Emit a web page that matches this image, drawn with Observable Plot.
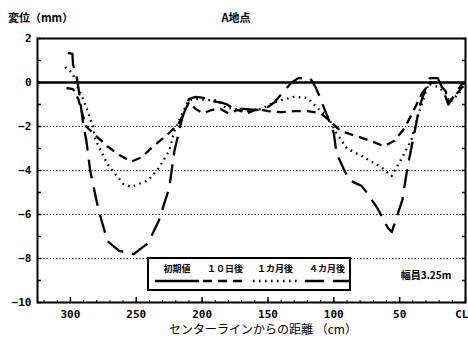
<!DOCTYPE html>
<html><head><meta charset="utf-8">
<script src="https://cdn.jsdelivr.net/npm/d3@7"></script>
<script src="https://cdn.jsdelivr.net/npm/@observablehq/plot@0.6"></script>
<style>
body{margin:0;background:#fff}
#chart svg{overflow:visible}
</style>
</head><body><div id="chart"></div>
<script>
// ---- data ----
const seriesNames = ["初期値", "１０日後", "１カ月後", "４カ月後"];

const xInit = [325, 0];
const yInit = [0, 0];

const x10d = [303, 298, 296, 294, 292, 288, 281, 272, 264, 254, 246, 238, 227, 218, 210, 205, 199, 193, 186, 180, 173, 166, 158, 150, 140, 130, 120, 110, 102, 95, 82, 70, 62, 54, 46, 38, 33, 27, 21, 15, 13, 5, 0];
const y10d = [-0.25, -0.3, -0.5, -0.75, -1.2, -2.0, -2.4, -2.9, -3.25, -3.6, -3.4, -2.95, -2.4, -1.9, -0.9, -1.2, -1.4, -1.25, -1.2, -1.4, -1.25, -1.4, -1.2, -1.3, -1.35, -1.3, -1.3, -1.4, -1.8, -2.2, -2.45, -2.7, -2.9, -2.65, -2.05, -1.1, -0.5, 0.0, 0.0, -0.4, -0.9, -0.4, 0];

const x1m = [304, 298, 296, 293, 290, 287, 283, 281, 272, 260, 254, 241, 233, 225, 221, 215, 210, 203, 196, 189, 182, 175, 165, 155, 147, 140, 130, 120, 115, 110, 105, 98, 90, 77, 64, 56, 48, 41, 37, 33, 28, 21, 15, 12, 5, 0];
const y1m = [0.7, 0.4, -0.05, -0.4, -0.8, -1.3, -2.0, -2.6, -3.7, -4.6, -4.75, -4.45, -3.9, -3.1, -2.2, -1.4, -0.8, -0.75, -0.8, -0.8, -1.15, -1.2, -1.3, -1.2, -0.95, -0.8, -0.65, -0.7, -1.0, -1.3, -1.5, -2.3, -3.0, -3.4, -3.85, -4.25, -3.4, -2.6, -1.7, -0.95, -0.05, -0.2, -0.5, -0.9, -0.5, 0];

const x4m = [302, 298.5, 298, 296, 294, 292, 290, 288, 285, 279, 272, 263, 252, 241, 233, 225, 221, 215, 210, 205, 199, 193, 186, 181, 176, 168, 160, 152, 145, 138, 132, 127, 118, 114, 111, 100, 98, 92, 88, 79, 75, 67, 59, 56, 48, 44, 38, 35, 29, 27, 21, 18, 13, 3, 0];
const y4m = [1.35, 1.3, 0.8, 0.5, -0.2, -1.1, -2.0, -2.6, -4.0, -5.7, -7.2, -7.65, -7.8, -7.3, -6.3, -4.8, -3.1, -1.6, -0.75, -0.65, -0.7, -0.85, -0.9, -1.0, -1.2, -1.2, -1.25, -1.2, -0.9, -0.4, 0.0, 0.2, 0.2, -0.2, -0.6, -2.3, -3.2, -4.0, -4.45, -4.7, -5.0, -5.7, -6.6, -6.8, -5.35, -3.85, -2.05, -1.1, -0.05, 0.2, 0.2, -0.2, -1.0, -0.1, 0];

const xTicks = [300, 250, 200, 150, 100, 50, 0];
const xMinorTicks = d3.range(0, 321, 10);
const yTicks = [2, 0, -2, -4, -6, -8, -10];
const yMinorTicks = d3.range(-10, 3, 1);
const gridValues = [-2, -4, -6, -8];

const styles = [
  {dash: null},
  {dash: "9,6"},
  {dash: "1.6,4.4"},
  {dash: "19,9"}
];

const rows = (xs, ys, s) => xs.map((x, i) => ({x, y: ys[i], s}));
const data = [
  ...rows(xInit, yInit, seriesNames[0]),
  ...rows(x10d, y10d, seriesNames[1]),
  ...rows(x1m, y1m, seriesNames[2]),
  ...rows(x4m, y4m, seriesNames[3])
];

const W = 468, H = 339;
const plot = Plot.plot({
  width: W, height: H,
  marginLeft: 37, marginRight: 3, marginTop: 38, marginBottom: 37,
  style: {fontFamily: "'DejaVu Sans Mono', monospace", fontSize: "11px", fontWeight: "bold", background: "#fff", color: "#000"},
  x: {domain: [325, 0], label: null},
  y: {domain: [-10, 2], label: null},
  marks: [
    Plot.ruleY(gridValues, {stroke: "#000", strokeWidth: 1.2, strokeDasharray: "1.2,2"}),
    Plot.ruleY([0], {stroke: "#000", strokeWidth: 2}),
    ...seriesNames.map((n, i) => Plot.line(data.filter(d => d.s === n), {
      x: "x", y: "y", stroke: "#000", strokeWidth: i === 0 ? 2 : 2.3,
      strokeDasharray: styles[i].dash, strokeLinecap: "butt"
    })),
    Plot.frame({stroke: "#000", strokeWidth: 2}),
    Plot.axisX({ticks: xTicks, tickSize: 0, tickPadding: 8, label: null, tickFormat: d => d === 0 ? "CL" : String(d), fontSize: 11, fontWeight: "bold"}),
    Plot.axisX({ticks: xTicks, tickSize: -5, text: null, label: null, strokeWidth: 1.5}),
    Plot.axisX({ticks: xMinorTicks, tickSize: -2, text: null, label: null}),
    Plot.axisY({ticks: yTicks, tickSize: 0, tickPadding: 6, label: null, tickFormat: d => String(d).replace("-", "−"), fontSize: 11, fontWeight: "bold"}),
    Plot.axisY({ticks: yMinorTicks, tickSize: -4, text: null, label: null, strokeWidth: 1.5}),
    Plot.axisY({anchor: "right", ticks: yMinorTicks, tickSize: -4, text: null, label: null, strokeWidth: 1.5})
  ]
});
document.getElementById("chart").appendChild(plot);

// ---- post-adjust: keep "CL" inside the picture ----
const svg = d3.select(plot);
svg.selectAll("text").filter(function() { return this.textContent === "CL"; })
  .attr("text-anchor", "end").attr("dx", 3);

// ---- texts and legend ----
const jp = "'Noto Sans CJK JP', sans-serif";
svg.append("text").attr("x", 8).attr("y", 22).attr("text-anchor", "start").attr("font-family", jp).attr("font-size", 11).attr("font-weight", "bold").text("変位（mm）");
svg.append("text").attr("x", 236).attr("y", 22).attr("text-anchor", "middle").attr("font-family", jp).attr("font-size", 11).attr("font-weight", "bold").text("A地点");
svg.append("text").attr("x", 263).attr("y", 334).attr("text-anchor", "middle").attr("font-family", jp).attr("font-size", 12).attr("font-weight", "normal").text("センターラインからの距離 （cm）");
svg.append("text").attr("x", 426).attr("y", 279).attr("text-anchor", "middle").attr("font-family", jp).attr("font-size", 10).attr("font-weight", "bold").text("幅員3.25m");

const lg = svg.append("g").attr("transform", "translate(148,258)");
lg.append("rect").attr("width", 202).attr("height", 32).attr("fill", "#fff").attr("stroke", "#000").attr("stroke-width", 2);
const lx = [29, 77, 127, 179];
seriesNames.forEach((n, i) => {
  lg.append("text").attr("x", lx[i]).attr("y", 14).attr("text-anchor", "middle").attr("font-family", jp).attr("font-size", 9).attr("font-weight", "bold").text(n);
  lg.append("line").attr("x1", lx[i] - 22).attr("x2", lx[i] + 22).attr("y1", 23).attr("y2", 23)
    .attr("stroke", "#000").attr("stroke-width", 2.3).attr("stroke-dasharray", styles[i].dash);
});
</script>
</body></html>
